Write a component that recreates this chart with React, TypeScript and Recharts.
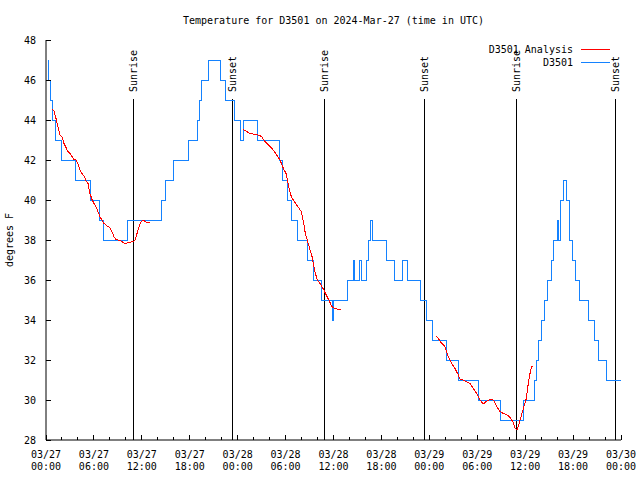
import React from 'react';
import { LineChart, Line, XAxis, YAxis, ReferenceLine } from 'recharts';

const FONT = '"DejaVu Sans Mono", "Liberation Mono", monospace';
const BLUE = '#1482ff';
const RED = '#ff0000';

// hours since 2024-03-27 00:00 UTC, station readings (step changes)
const blueHours = [
  0.25, 0.35, 0.55, 0.8, 1.15, 2.0, 3.75, 5.6, 6.65, 7.15,
  10.15, 14.4, 15.0, 15.95, 17.8, 18.95, 19.2, 19.5, 20.3, 21.8,
  22.5, 23.55, 24.35, 24.75, 26.5, 29.3, 29.65, 30.3, 30.75, 31.55,
  32.8, 33.55, 34.5, 35.93, 36.0, 37.7, 38.45, 38.6, 39.3, 39.55,
  40.1, 40.35, 40.6, 40.9, 42.6, 43.6, 44.65, 45.3, 46.9, 47.6,
  48.4, 50.1, 51.6, 54.1, 56.85, 59.85, 61.15, 61.4, 61.65, 62.1,
  62.45, 62.85, 63.25, 63.6, 64.0, 64.2, 64.4, 64.85, 65.2, 65.55,
  65.95, 66.35, 66.75, 67.9, 68.65, 69.15, 70.15, 72,
];
const blueTemps = [
  47, 46, 45, 44, 43, 42, 41, 40, 39, 38,
  39, 40, 41, 42, 43, 44, 45, 46, 47, 46,
  45, 44, 43, 44, 43, 42, 41, 40, 39, 38,
  37, 36, 35, 34, 35, 36, 37, 36, 37, 36,
  37, 38, 39, 38, 37, 36, 37, 36, 35, 34,
  33, 32, 31, 30, 29, 30, 31, 32, 33, 34,
  35, 36, 37, 38, 39, 38, 40, 41, 40, 38,
  37, 36, 35, 34, 33, 32, 31, 31,
];

// analysis curve, null = gap
const redHours = [
  0.75, 1.0, 1.25, 1.5, 1.75, 2.0, 2.25, 2.5, 2.75, 3.0, 3.26, 3.5, 3.76, 4.0, 4.26, 4.5,
  4.76, 5.0, 5.26, 5.5, 5.76, 6.0, 6.26, 6.5, 6.76, 7.0, 7.26, 7.5, 7.76, 8.0, 8.26, 8.5,
  8.77, 9.0, 9.27, 9.5, 9.77, 10.0, 10.27, 10.5, 10.77, 11.0, 11.14, 11.4, 11.65, 11.9,
  12.1, 12.27, 12.5, 12.77, 13.02,
  18,
  24.71, 25.13, 25.55, 25.96, 26.59, 27.0, 27.42, 27.84, 28.46, 28.88, 29.3, 29.72, 30.05,
  30.22, 30.47, 30.72, 30.97, 31.39, 31.97, 32.22, 32.47, 32.72, 33.06, 33.31, 33.48, 33.73,
  33.98, 34.31, 34.73, 35.15, 35.48, 35.77, 36.19, 36.6, 36.98,
  42,
  48.84, 49.13, 49.55, 49.96, 50.38, 50.8, 51.21, 51.63, 51.84, 52.26, 53.09, 53.51, 53.93,
  54.35, 54.76, 55.1, 55.6, 56.02, 56.44, 56.85, 57.27, 57.77, 58.11, 58.45, 58.74, 58.99,
  59.24, 59.49, 59.78, 60.11, 60.28, 60.45, 60.69, 60.86, 61.02,
];
const redTemps = [
  44.53, 44.45, 44.08, 43.65, 43.25, 43.15, 42.83, 42.63, 42.42, 42.33, 42.17, 42.03, 42.0, 41.83, 41.5, 41.33,
  41.2, 40.97, 40.83, 40.33, 40.03, 39.83, 39.67, 39.42, 39.17, 39.0, 38.83, 38.75, 38.67, 38.63, 38.42, 38.17,
  38.03, 38.0, 37.97, 37.92, 37.85, 37.83, 37.87, 37.87, 37.92, 37.93, 38.0, 38.33, 38.67, 38.92,
  38.97, 38.97, 38.9, 38.87, 38.9,
  null,
  43.53, 43.42, 43.33, 43.3, 43.25, 43.17, 42.92, 42.75, 42.5, 42.25, 42.0, 41.58, 41.33,
  41.0, 40.5, 40.17, 40.0, 39.75, 39.42, 38.95, 38.33, 38.0, 37.5, 37.17, 36.83, 36.33,
  36.0, 35.83, 35.55, 35.2, 34.95, 34.67, 34.58, 34.53, 34.53,
  null,
  33.2, 33.08, 32.83, 32.67, 32.17, 31.83, 31.58, 31.25, 31.05, 31.0, 30.83, 30.58, 30.33,
  30.0, 29.8, 29.92, 30.03, 30.0, 29.67, 29.42, 29.33, 29.25, 29.13, 28.92, 28.58, 28.5,
  28.83, 29.17, 29.58, 30.03, 30.5, 31.0, 31.5, 31.7, 31.7,
];

const sunNames = ['Sunrise', 'Sunset', 'Sunrise', 'Sunset', 'Sunrise', 'Sunset'];
const sunHours = [10.93, 23.33, 34.85, 47.37, 58.89, 71.29];

const xDates = ['03/27', '03/27', '03/27', '03/27', '03/28', '03/28', '03/28', '03/28', '03/29', '03/29', '03/29', '03/29', '03/30'];
const xTimes = ['00:00', '06:00', '12:00', '18:00', '00:00', '06:00', '12:00', '18:00', '00:00', '06:00', '12:00', '18:00', '00:00'];
const xTicks = Array.from({ length: 37 }, (_, i) => i * 2);
const yTicks = [28, 30, 32, 34, 36, 38, 40, 42, 44, 46, 48];

const series = [
  { name: 'D3501 Analysis', color: RED },
  { name: 'D3501', color: BLUE },
];

const blueData = blueHours.map((h, i) => ({ h, t: blueTemps[i] }));
const redData = redHours.map((h, i) => ({ h, t: redTemps[i] }));

const textStyle = { fontFamily: FONT, fontSize: 10, fill: '#000' };

function BottomTick({ x, y, payload }: any) {
  const major = payload.value % 6 === 0;
  const idx = payload.value / 6;
  return (
    <g>
      <line x1={x} x2={x} y1={y} y2={y - (major ? 5 : 3)} stroke="#000" shapeRendering="crispEdges" />
      {major && (
        <text x={x} y={y + 18} textAnchor="middle" style={textStyle}>
          {xDates[idx]}
        </text>
      )}
      {major && (
        <text x={x} y={y + 30} textAnchor="middle" style={textStyle}>
          {xTimes[idx]}
        </text>
      )}
    </g>
  );
}

function TopTick({ x, y, payload }: any) {
  const major = payload.value % 6 === 0;
  return <line x1={x} x2={x} y1={y} y2={y + (major ? 5 : 3)} stroke="#000" shapeRendering="crispEdges" />;
}

function LeftTick({ x, y, payload }: any) {
  return (
    <g>
      <line x1={x} x2={x + 5} y1={y} y2={y} stroke="#000" shapeRendering="crispEdges" />
      <text x={x - 10} y={y + 3.5} textAnchor="end" style={textStyle}>
        {payload.value}
      </text>
    </g>
  );
}

function RightTick({ x, y }: any) {
  return <line x1={x} x2={x - 5} y1={y} y2={y} stroke="#000" shapeRendering="crispEdges" />;
}

function sunLabel(name: string) {
  return (props: any) => {
    const vb = props.viewBox || {};
    return (
      <text
        transform={`translate(${vb.x + 4}, ${vb.y - 7}) rotate(-90)`}
        textAnchor="start"
        style={textStyle}
      >
        {name}
      </text>
    );
  };
}

export default function App() {
  return (
    <div style={{ position: 'absolute', left: 0, top: 0, width: 640, height: 480, background: '#fff' }}>
      <LineChart width={640} height={480} margin={{ top: 40, right: 19, bottom: 0, left: 0 }}>
        <XAxis
          xAxisId="b"
          dataKey="h"
          type="number"
          domain={[0, 72]}
          ticks={xTicks}
          interval={0}
          height={40}
          tickSize={0}
          tickMargin={0}
          tick={(p: any) => <BottomTick {...p} />}
          stroke="#000"
          allowDataOverflow
        />
        <XAxis
          xAxisId="t"
          orientation="top"
          type="number"
          domain={[0, 72]}
          ticks={xTicks}
          interval={0}
          height={0}
          tickSize={0}
          tickMargin={0}
          tick={(p: any) => <TopTick {...p} />}
          stroke="#000"
          allowDataOverflow
        />
        <YAxis
          yAxisId="l"
          type="number"
          domain={[28, 48]}
          ticks={yTicks}
          interval={0}
          width={46}
          tickSize={0}
          tickMargin={0}
          tick={(p: any) => <LeftTick {...p} />}
          stroke="#000"
          allowDataOverflow
        />
        <YAxis
          yAxisId="r"
          orientation="right"
          type="number"
          domain={[28, 48]}
          ticks={yTicks}
          interval={0}
          width={0}
          tickSize={0}
          tickMargin={0}
          tick={(p: any) => <RightTick {...p} />}
          stroke="#000"
          allowDataOverflow
        />
        {sunHours.map((h, i) => (
          <ReferenceLine
            key={`sun-${i}`}
            xAxisId="b"
            yAxisId="l"
            segment={[{ x: h, y: 28 }, { x: h, y: 45.05 }]}
            stroke="#000"
            strokeWidth={1}
            shapeRendering="crispEdges"
            label={sunLabel(sunNames[i])}
          />
        ))}
        <Line
          xAxisId="b"
          yAxisId="l"
          data={blueData}
          dataKey="t"
          name="D3501"
          type="stepAfter"
          stroke={BLUE}
          strokeWidth={1}
          shapeRendering="crispEdges"
          dot={false}
          isAnimationActive={false}
        />
        <Line
          xAxisId="b"
          yAxisId="l"
          data={redData}
          dataKey="t"
          name="D3501 Analysis"
          type="linear"
          stroke={RED}
          strokeWidth={1}
          shapeRendering="crispEdges"
          dot={false}
          connectNulls={false}
          isAnimationActive={false}
        />
      </LineChart>
      <svg
        width={640}
        height={480}
        style={{ position: 'absolute', left: 0, top: 0, pointerEvents: 'none' }}
      >
        <text x={333.5} y={23.5} textAnchor="middle" style={textStyle}>
          Temperature for D3501 on 2024-Mar-27 (time in UTC)
        </text>
        <text transform="translate(12.5, 240) rotate(-90)" textAnchor="middle" style={textStyle}>
          degrees F
        </text>
        {series.map((s, i) => (
          <g key={s.name}>
            <text x={573} y={53 + i * 12.5} textAnchor="end" style={textStyle}>
              {s.name}
            </text>
            <line x1={581} x2={610} y1={49.5 + i * 12.5} y2={49.5 + i * 12.5} stroke={s.color} shapeRendering="crispEdges" />
          </g>
        ))}
      </svg>
    </div>
  );
}
